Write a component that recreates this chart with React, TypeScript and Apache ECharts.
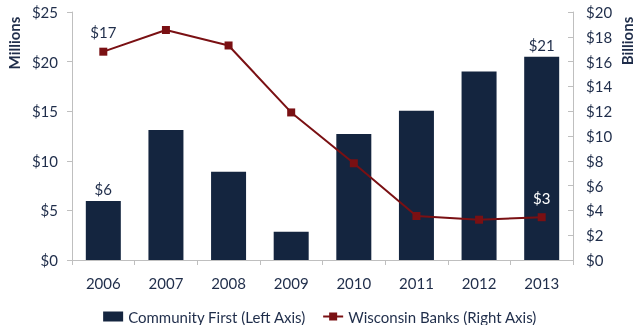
import React, { useEffect, useRef } from "react";
import * as echarts from "echarts";

const years = ["2006", "2007", "2008", "2009", "2010", "2011", "2012", "2013"];
const communityFirst = [5.95, 13.1, 8.9, 2.85, 12.7, 15.05, 19.0, 20.5];
const wisconsinBanks = [16.8, 18.55, 17.3, 11.9, 7.8, 3.55, 3.25, 3.45];
const leftLabelIdx = [0, 7];
const rightLabelIdx = [0, 7];

const NAVY = "#14253F";
const RED = "#7A1013";
const TEXT = "#1F2D4A";
const AXIS = "#BFBFBF";
const FONT = "Lato";

export default function App() {
  const ref = useRef<HTMLDivElement>(null);
  useEffect(() => {
    if (!ref.current) return;
    const chart = echarts.init(ref.current, null, { renderer: "svg" });
    chart.setOption({
      animation: false,
      textStyle: { fontFamily: FONT, color: TEXT },
      grid: { left: 72, right: 67, top: 12, bottom: 65 },
      legend: {
        top: 304,
        left: "center",
        itemWidth: 20,
        itemHeight: 10,
        itemGap: 16,
        textStyle: { fontFamily: FONT, fontSize: 15, color: TEXT },
        data: [
          { name: "Community First (Left Axis)", icon: "rect" },
          { name: "Wisconsin Banks (Right Axis)" },
        ],
      },
      graphic: [
        {
          type: "text",
          x: 14,
          y: 43,
          rotation: Math.PI / 2,
          style: {
            text: "Millions",
            fontFamily: FONT,
            fontSize: 15,
            fontWeight: "bold",
            fill: TEXT,
            align: "center",
            verticalAlign: "middle",
          },
        },
        {
          type: "text",
          x: 627,
          y: 41,
          rotation: Math.PI / 2,
          style: {
            text: "Billions",
            fontFamily: FONT,
            fontSize: 15,
            fontWeight: "bold",
            fill: TEXT,
            align: "center",
            verticalAlign: "middle",
          },
        },
      ],
      xAxis: {
        type: "category",
        data: years,
        axisLine: { lineStyle: { color: AXIS, width: 1 } },
        axisTick: { show: true, length: 5, lineStyle: { color: AXIS } },
        axisLabel: { fontFamily: FONT, fontSize: 15, color: TEXT, margin: 15 },
      },
      yAxis: [
        {
          type: "value",
          min: 0,
          max: 25,
          interval: 5,
          position: "left",
          splitLine: { show: false },
          axisLine: { show: true, lineStyle: { color: AXIS } },
          axisTick: { show: true, length: 5, lineStyle: { color: AXIS } },
          axisLabel: {
            fontFamily: FONT,
            fontSize: 15,
            color: TEXT,
            margin: 14,
            formatter: (v: number) => "$" + v,
          },
        },
        {
          type: "value",
          min: 0,
          max: 20,
          interval: 2,
          position: "right",
          splitLine: { show: false },
          axisLine: { show: true, lineStyle: { color: AXIS } },
          axisTick: { show: true, inside: true, length: 5, lineStyle: { color: AXIS } },
          axisLabel: {
            fontFamily: FONT,
            fontSize: 15,
            color: TEXT,
            margin: 13,
            formatter: (v: number) => "$" + v,
          },
        },
      ],
      series: [
        {
          name: "Community First (Left Axis)",
          type: "bar",
          yAxisIndex: 0,
          barWidth: 35,
          itemStyle: { color: NAVY },
          data: communityFirst.map((v, i) => ({
            value: v,
            label: {
              show: leftLabelIdx.includes(i),
              position: "top",
              distance: 4,
              formatter: () => "$" + Math.round(v),
              fontFamily: FONT,
              fontSize: 15,
              color: TEXT,
            },
          })),
        },
        {
          name: "Wisconsin Banks (Right Axis)",
          type: "line",
          yAxisIndex: 1,
          symbol: "rect",
          symbolSize: 8,
          lineStyle: { color: RED, width: 2 },
          itemStyle: { color: RED },
          data: wisconsinBanks.map((v, i) => ({
            value: v,
            label: {
              show: rightLabelIdx.includes(i),
              position: "top",
              distance: 8,
              formatter: () => "$" + Math.round(v),
              fontFamily: FONT,
              fontSize: 15,
              color: i === 7 ? "#FFFFFF" : TEXT,
            },
          })),
        },
      ],
    });
    return () => chart.dispose();
  }, []);
  return (
    <div
      ref={ref}
      style={{ position: "fixed", left: 0, top: 0, width: 640, height: 325 }}
    />
  );
}
